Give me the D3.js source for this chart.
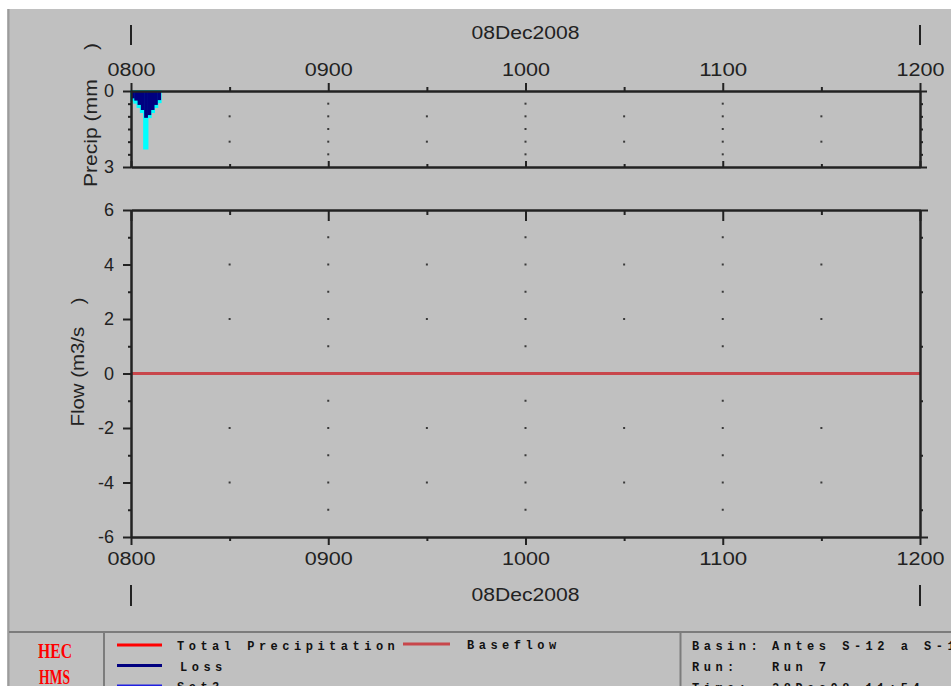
<!DOCTYPE html>
<html>
<head>
<meta charset="utf-8">
<script src="https://cdn.jsdelivr.net/npm/d3@7"></script>
<style>
  html, body { margin: 0; padding: 0; background: #fff; }
  svg { display: block; }
  text { font-family: "Liberation Sans", Arial, sans-serif; fill: #222; }
  .legend text { font-family: "Liberation Mono", monospace; font-weight: bold; font-size: 12px; letter-spacing: 4.5px; fill: #111; }
</style>
</head>
<body>
<div id="chart"></div>
<script>
// precipitation, one value per minute (mm)
var precipTimes = ['0800', '0801', '0802', '0803', '0804', '0805', '0806', '0807', '0808'];
var totalPrecip = [0.37, 0.46, 0.63, 0.83, 2.27, 1.03, 0.83, 0.63, 0.44];
var lossValues  = [0.29, 0.38, 0.55, 0.75, 1.06, 0.95, 0.75, 0.55, 0.36];

// flow hydrograph (m3/s)
var flowTimes = ['0800', '1200'];
var baseflow  = [0, 0];

var hourTicks = ['0800', '0900', '1000', '1100', '1200'];
var halfHourTicks = ['0830', '0930', '1030', '1130'];
var precipTicks = [0, 3];
var precipMinor = [0.5, 1, 1.5, 2, 2.5];
var flowTicks = [-6, -4, -2, 0, 2, 4, 6];
var flowMinor = [-5, -3, -1, 1, 3, 5];
var dayLabel = '08Dec2008';

var legendRows = [
    { label: 'Total Precipitation', color: '#ff0000' },
    { label: 'Loss', color: '#000080' },
    { label: 'Set3', color: '#2020e0' }
];
var legendExtra = { label: 'Baseflow', color: '#c8464b' };
var infoLines = [
    ['Basin:', 'Antes S-12 a S-13'],
    ['Run:', 'Run 7'],
    ['Time:', '28Dec08  11:54']
];

var chart_width = 951;
var chart_height = 686;

var parseTime = d3.timeParse('%d%b%Y %H%M');
function t(s) { return parseTime(dayLabel + ' ' + s); }
// plain hyphen minus, like the original
function num(d) { return String(d); }

var svg = d3.select('#chart')
    .append('svg')
    .attr('width', chart_width)
    .attr('height', chart_height);

// window background
svg.append('rect')
    .attr('x', 7).attr('y', 9)
    .attr('width', chart_width - 7).attr('height', chart_height - 9)
    .attr('fill', '#c0c0c0');
svg.append('line')
    .attr('x1', 8.5).attr('x2', 8.5).attr('y1', 9).attr('y2', chart_height)
    .attr('stroke', '#9c9c9c').attr('stroke-width', 2);

// scales
var xScale = d3.scaleTime()
    .domain([t('0800'), t('1200')])
    .range([131, 920]);

var yPrecip = d3.scaleLinear()
    .domain([0, 3])
    .range([91, 167]);

var yFlow = d3.scaleLinear()
    .domain([-6, 6])
    .range([537, 210]);

// grid dots
function dots(times, values, yScale) {
    var pts = [];
    times.forEach(function(tm) {
        values.forEach(function(v) { pts.push([tm, v]); });
    });
    svg.append('g').selectAll('rect')
        .data(pts)
        .enter()
        .append('rect')
        .attr('x', function(d) { return xScale(t(d[0])) - 1; })
        .attr('y', function(d) { return yScale(d[1]) - 1; })
        .attr('width', 2).attr('height', 2)
        .attr('fill', '#3a3a3a');
}
var innerHours = hourTicks.slice(1, -1);
dots(innerHours, precipMinor, yPrecip);
dots(halfHourTicks, [1, 2], yPrecip);
dots(innerHours, flowMinor.concat([-4, -2, 2, 4]), yFlow);
dots(halfHourTicks, [-4, -2, 2, 4], yFlow);

// precip bars
var oneMin = 60 * 1000;
svg.append('g').selectAll('rect')
    .data(precipTimes)
    .enter()
    .append('rect')
    .attr('x', function(d) { return xScale(t(d)); })
    .attr('y', yPrecip(0))
    .attr('width', function(d) { return xScale(new Date(+t(d) + oneMin)) - xScale(t(d)); })
    .attr('height', function(d, i) { return yPrecip(totalPrecip[i]) - yPrecip(0); })
    .attr('fill', '#00ffff')
    .attr('stroke', '#00ffff')
    .attr('stroke-width', 2);

svg.append('g').selectAll('rect')
    .data(precipTimes)
    .enter()
    .append('rect')
    .attr('x', function(d) { return xScale(t(d)); })
    .attr('y', yPrecip(0))
    .attr('width', function(d) { return xScale(new Date(+t(d) + oneMin)) - xScale(t(d)) + 0.5; })
    .attr('height', function(d, i) { return yPrecip(lossValues[i]) - yPrecip(0); })
    .attr('fill', '#000080');

// baseflow line
var flowLine = d3.line()
    .x(function(d, i) { return xScale(t(flowTimes[i])); })
    .y(function(d) { return yFlow(d); });
svg.append('path')
    .datum(baseflow)
    .attr('d', flowLine)
    .attr('fill', 'none')
    .attr('stroke', '#c8464b')
    .attr('stroke-width', 3);

// axes helper
function drawAxis(axis, tx, ty, labels) {
    var g = svg.append('g')
        .attr('transform', 'translate(' + tx + ',' + ty + ')')
        .call(axis);
    g.selectAll('line').attr('stroke', '#222').attr('stroke-width', 2);
    g.select('.domain').attr('stroke', '#222').attr('stroke-width', 2);
    g.selectAll('text').attr('font-size', 18).attr('fill', '#222')
        .attr('font-family', '"Liberation Sans", Arial, sans-serif');
    if (!labels) g.selectAll('text').remove();
    return g;
}
var hourDates = hourTicks.map(t);
var halfDates = halfHourTicks.map(t);
var fmt = d3.timeFormat('%H%M');

// precip panel
drawAxis(d3.axisTop(xScale).tickValues(halfDates).tickSize(4).tickSizeOuter(0), 0, yPrecip(0), false);
var gTop = drawAxis(d3.axisTop(xScale).tickValues(hourDates).tickSize(8).tickSizeOuter(0).tickPadding(7).tickFormat(fmt), 0, yPrecip(0), true);
gTop.selectAll('text').attr('textLength', 48).attr('lengthAdjust', 'spacingAndGlyphs');
drawAxis(d3.axisTop(xScale).tickValues(halfDates).tickSize(3).tickSizeOuter(0), 0, yPrecip(3), false);
drawAxis(d3.axisTop(xScale).tickValues(hourDates).tickSize(6).tickSizeOuter(0), 0, yPrecip(3), false);
drawAxis(d3.axisLeft(yPrecip).tickValues(precipMinor).tickSize(3).tickSizeOuter(0), xScale.range()[0], 0, false);
drawAxis(d3.axisLeft(yPrecip).tickValues(precipTicks).tickSize(8).tickSizeOuter(0).tickPadding(9).tickFormat(num), xScale.range()[0], 0, true);
drawAxis(d3.axisRight(yPrecip).tickValues(precipMinor).tickSize(3).tickSizeOuter(0), xScale.range()[1], 0, false);
drawAxis(d3.axisRight(yPrecip).tickValues(precipTicks).tickSize(7).tickSizeOuter(0), xScale.range()[1], 0, false);

// flow panel
drawAxis(d3.axisBottom(xScale).tickValues(halfDates).tickSize(5).tickSizeOuter(0), 0, yFlow(6), false);
drawAxis(d3.axisBottom(xScale).tickValues(hourDates).tickSize(11).tickSizeOuter(0), 0, yFlow(6), false);
drawAxis(d3.axisBottom(xScale).tickValues(halfDates).tickSize(4).tickSizeOuter(0), 0, yFlow(-6), false);
var gBot = drawAxis(d3.axisBottom(xScale).tickValues(hourDates).tickSize(8).tickSizeOuter(0).tickPadding(7).tickFormat(fmt), 0, yFlow(-6), true);
gBot.selectAll('text').attr('textLength', 48).attr('lengthAdjust', 'spacingAndGlyphs');
drawAxis(d3.axisLeft(yFlow).tickValues(flowMinor).tickSize(3).tickSizeOuter(0), xScale.range()[0], 0, false);
drawAxis(d3.axisLeft(yFlow).tickValues(flowTicks).tickSize(8).tickSizeOuter(0).tickPadding(9).tickFormat(num), xScale.range()[0], 0, true);
drawAxis(d3.axisRight(yFlow).tickValues(flowMinor).tickSize(3).tickSizeOuter(0), xScale.range()[1], 0, false);
drawAxis(d3.axisRight(yFlow).tickValues([-6, 6]).tickSize(8).tickSizeOuter(0), xScale.range()[1], 0, false);

// day labels and bars
[[39, 25, 45], [601, 585, 606]].forEach(function(r) {
    svg.append('text')
        .attr('x', (xScale.range()[0] + xScale.range()[1]) / 2)
        .attr('y', r[0])
        .attr('text-anchor', 'middle')
        .attr('font-size', 18)
        .attr('textLength', 108)
        .attr('lengthAdjust', 'spacingAndGlyphs')
        .text(dayLabel);
    xScale.range().forEach(function(px) {
        svg.append('line')
            .attr('x1', px).attr('x2', px).attr('y1', r[1]).attr('y2', r[2])
            .attr('stroke', '#222').attr('stroke-width', 2);
    });
});

// axis titles
function yTitle(txt, x, y, len) {
    svg.append('text')
        .attr('transform', 'translate(' + x + ',' + y + ') rotate(-90)')
        .attr('text-anchor', 'middle')
        .attr('font-size', 18)
        .attr('textLength', len)
        .attr('lengthAdjust', 'spacingAndGlyphs')
        .style('white-space', 'pre')
        .text(txt);
}
yTitle('Precip (mm     )', 97, 115, 144);
yTitle('Flow (m3/s    )', 84, 362, 129);

// legend box
var legend = svg.append('g').attr('class', 'legend');
legend.append('line')
    .attr('x1', 9).attr('x2', chart_width).attr('y1', 632).attr('y2', 632)
    .attr('stroke', '#7c7c7c').attr('stroke-width', 2);
[104, 680.5].forEach(function(px) {
    legend.append('line')
        .attr('x1', px).attr('x2', px).attr('y1', 632).attr('y2', chart_height)
        .attr('stroke', '#7c7c7c').attr('stroke-width', 2);
});

// logo
legend.append('text').attr('x', 38).attr('y', 658)
    .attr('textLength', 34).attr('lengthAdjust', 'spacingAndGlyphs')
    .style('font-family', '"Liberation Serif", serif').style('font-size', '20px')
    .style('font-weight', 'bold')
    .style('letter-spacing', '0px').style('fill', '#ff0000')
    .text('HEC');
legend.append('text').attr('x', 39).attr('y', 684)
    .attr('textLength', 31).attr('lengthAdjust', 'spacingAndGlyphs')
    .style('font-family', '"Liberation Serif", serif').style('font-size', '20px')
    .style('font-weight', 'bold')
    .style('letter-spacing', '0px').style('fill', '#ff0000')
    .text('HMS');

legendRows.forEach(function(d, i) {
    var y = 645 + i * 20.5;
    legend.append('line')
        .attr('x1', 117).attr('x2', 162).attr('y1', y).attr('y2', y)
        .attr('stroke', d.color).attr('stroke-width', 3);
    legend.append('text')
        .attr('x', 177 + (i === 1 ? 3 : 0)).attr('y', y + 5)
        .text(d.label);
});
legend.append('line')
    .attr('x1', 403).attr('x2', 450).attr('y1', 644).attr('y2', 644)
    .attr('stroke', legendExtra.color).attr('stroke-width', 3);
legend.append('text').attr('x', 467).attr('y', 649).text(legendExtra.label);

infoLines.forEach(function(d, i) {
    var y = 650 + i * 21;
    legend.append('text').attr('x', 692).attr('y', y).text(d[0]);
    legend.append('text').attr('x', 772).attr('y', y).text(d[1]);
});
</script>
</body>
</html>
